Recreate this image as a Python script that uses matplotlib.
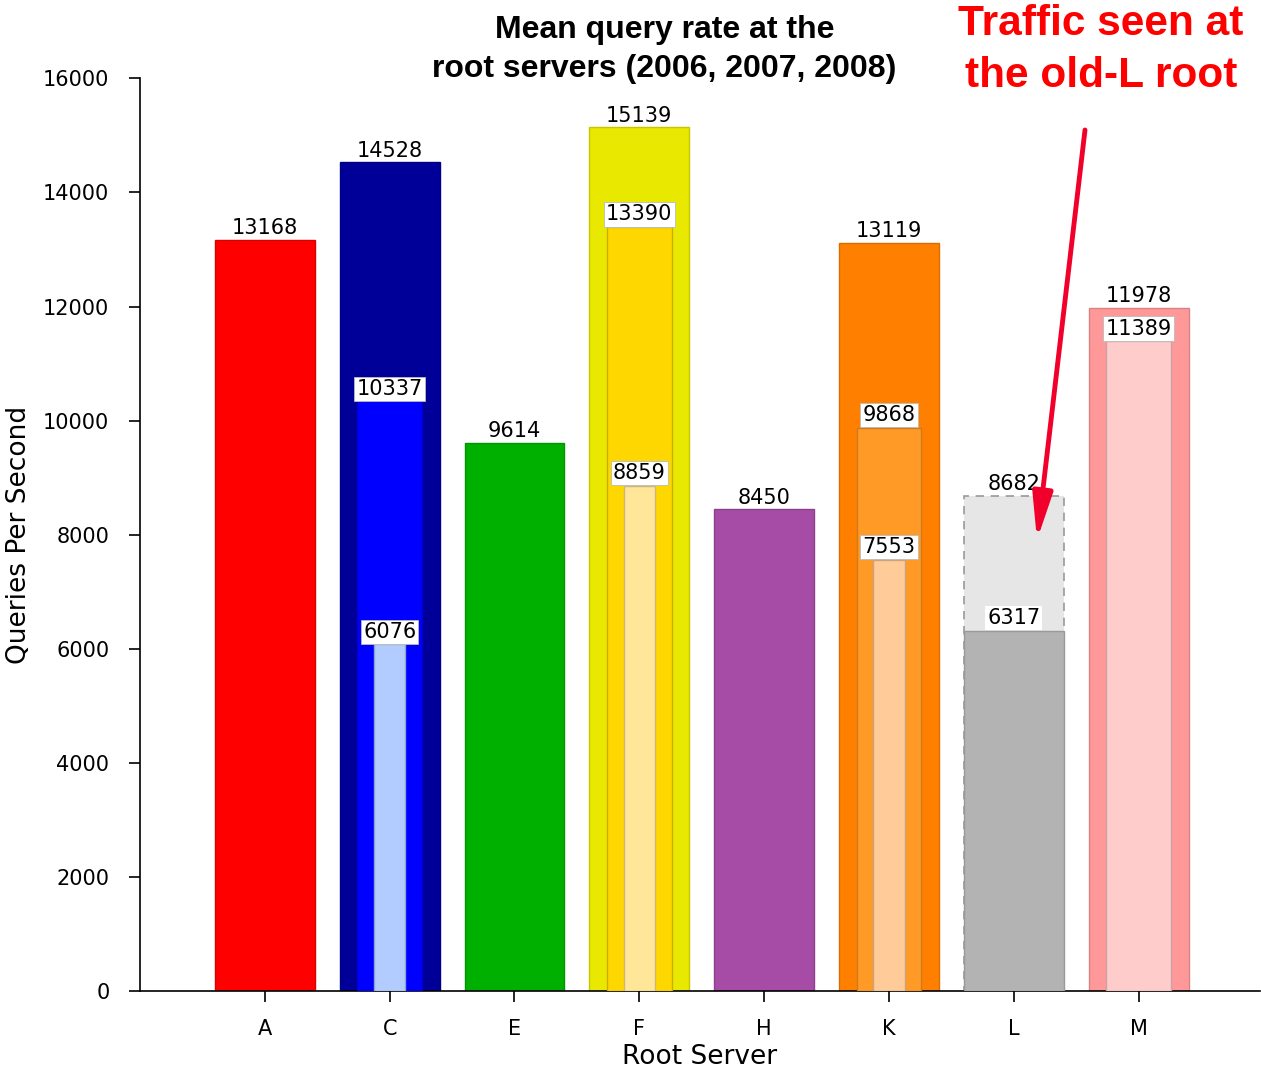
import numpy as np
import matplotlib
matplotlib.use("Agg")
import matplotlib.pyplot as plt

servers = ["A", "C", "E", "F", "H", "K", "L", "M"]
# widest bars
wide_vals = [13168, 14528, 9614, 15139, 8450, 13119, 8682, 11978]
wide_colors = ["#FF0000", "#000099", "#00B000", "#E8E800", "#A64CA6", "#FF8000", "#E6E6E6", "#FF9999"]
# medium-width bars
mid_vals = [np.nan, 10337, np.nan, 13390, np.nan, 9868, np.nan, 11389]
mid_colors = [None, "#0000FF", None, "#FFD700", None, "#FF9A26", None, "#FFCCCC"]
# narrow bars
narrow_vals = [np.nan, 6076, np.nan, 8859, np.nan, 7553, np.nan, np.nan]
narrow_colors = [None, "#B3CCFF", None, "#FFE699", None, "#FFCC99", None, None]
# new-L traffic (full width, drawn over old-L)
newL_val = 6317
newL_color = "#B3B3B3"

fig = plt.figure(figsize=(12.61, 10.70), dpi=100)
ax = fig.add_axes([0.111, 0.0738, 0.888, 0.853])
x = np.arange(len(servers))

def darker(c, f=0.8):
    r, g, b = matplotlib.colors.to_rgb(c)
    return (r * f, g * f, b * f)

label_fs = 15
for i, (v, c) in enumerate(zip(wide_vals, wide_colors)):
    if servers[i] == "L":
        ax.bar(x[i], v, width=0.8, color=c, edgecolor="#999999", linestyle=(0, (5, 4)), linewidth=1.2, zorder=2)
    else:
        ax.bar(x[i], v, width=0.8, color=c, edgecolor=darker(c, 0.85), linewidth=1, zorder=2)
    ax.annotate(str(v), (x[i], v), xytext=(0, 1), textcoords="offset points",
                ha="center", va="bottom", fontsize=label_fs, zorder=5)

for i, (v, c) in enumerate(zip(mid_vals, mid_colors)):
    if np.isnan(v):
        continue
    ax.bar(x[i], v, width=0.52, color=c, edgecolor=darker(c, 0.8), linewidth=1, zorder=3)
    ax.annotate(str(int(v)), (x[i], v), xytext=(0, 2), textcoords="offset points",
                ha="center", va="bottom", fontsize=label_fs, zorder=6,
                bbox=dict(boxstyle="square,pad=0.1", fc="white", ec="#BBBBBB", lw=0.6))

for i, (v, c) in enumerate(zip(narrow_vals, narrow_colors)):
    if np.isnan(v):
        continue
    ax.bar(x[i], v, width=0.25, color=c, edgecolor=darker(c, 0.8), linewidth=1, zorder=4)
    ax.annotate(str(int(v)), (x[i], v), xytext=(0, 2), textcoords="offset points",
                ha="center", va="bottom", fontsize=label_fs, zorder=7,
                bbox=dict(boxstyle="square,pad=0.1", fc="white", ec="#BBBBBB", lw=0.6))

iL = servers.index("L")
ax.bar(x[iL], newL_val, width=0.8, color=newL_color, edgecolor="#999999", linewidth=1, zorder=3)
ax.annotate(str(newL_val), (x[iL], newL_val), xytext=(0, 2), textcoords="offset points",
            ha="center", va="bottom", fontsize=label_fs, zorder=7,
            bbox=dict(boxstyle="square,pad=0.1", fc="white", ec="none", lw=0))

ax.set_xlim(-1, 7.97)
ax.set_ylim(0, 16000)
ax.set_yticks(np.arange(0, 16001, 2000))
ax.set_xticks(x)
ax.set_xticklabels(servers)
ax.tick_params(axis="both", labelsize=15, length=8, width=1.2, direction="out")
ax.tick_params(axis="x", pad=12)
ax.tick_params(axis="y", pad=14)
ax.spines["top"].set_visible(False)
ax.spines["right"].set_visible(False)
ax.spines["left"].set_linewidth(1.2)
ax.spines["bottom"].set_linewidth(1.2)
ax.set_xlabel("Root Server", fontsize=19, labelpad=4)
ax.set_ylabel("Queries Per Second", fontsize=19, labelpad=8)

fig.text(0.527, 0.986, "Mean query rate at the\nroot servers (2006, 2007, 2008)",
         ha="center", va="top", fontsize=23, fontweight="bold",
         family="Liberation Sans", linespacing=1.38)
fig.text(0.873, 0.996, "Traffic seen at\nthe old-L root", ha="center", va="top",
         fontsize=30.5, fontweight="bold", color="#FF0000", family="Liberation Sans",
         linespacing=1.38)
fig.patches.append(matplotlib.patches.FancyArrowPatch(
    (1085 / 1261, 1 - 130 / 1070), (1037 / 1261, 1 - 540 / 1070),
    transform=fig.transFigure, arrowstyle="-|>,head_length=28,head_width=6",
    color="#F0002A", lw=3.5, mutation_scale=1, shrinkA=0, shrinkB=0))

fig.savefig("out.png", dpi=100)
